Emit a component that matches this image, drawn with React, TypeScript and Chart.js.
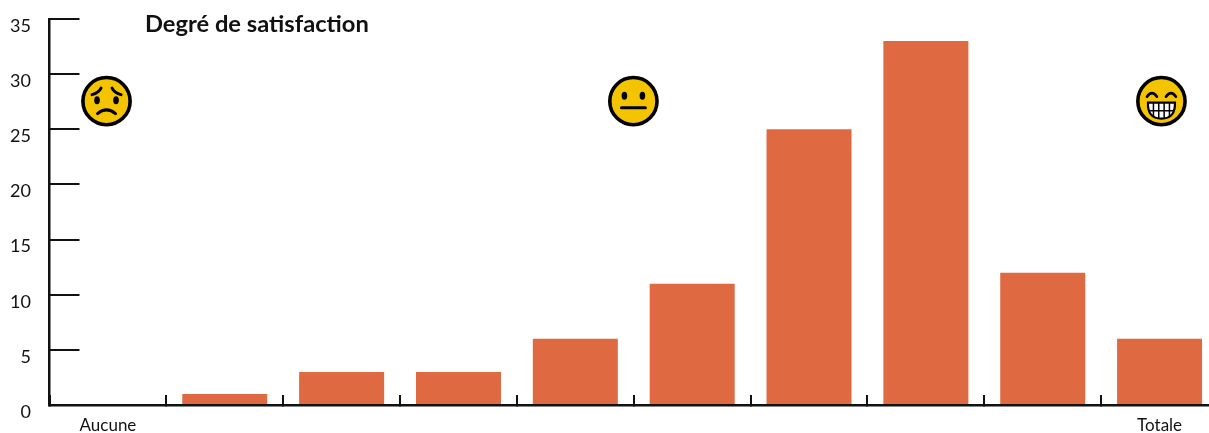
import React, { useEffect, useRef } from "react";
import { Chart, registerables } from "chart.js";

Chart.register(...registerables);

const categories = ["Aucune", "", "", "", "", "", "", "", "", "Totale"];
const responses = [0, 1, 3, 3, 6, 11, 25, 33, 12, 6];
const yTicks = [0, 5, 10, 15, 20, 25, 30, 35];
const chartTitle = "Degré de satisfaction";
const BAR_COLOR = "#DF6941";
const INK = "#111111";
const FACE = "#F5C400";

type Mood = "sad" | "neutral" | "grin";
// Fraction of the plot width and y value at which each mood face sits.
const moods: Mood[] = ["sad", "neutral", "grin"];
const moodFractions = [0.0488, 0.4997, 0.9516];
const moodValue = 27.55;

function drawFace(ctx: CanvasRenderingContext2D, cx: number, cy: number, mood: Mood) {
  ctx.save();
  ctx.translate(cx, cy);
  ctx.lineCap = "round";
  ctx.strokeStyle = "#000";
  ctx.fillStyle = FACE;
  ctx.lineWidth = 3.6;
  ctx.beginPath();
  ctx.arc(0, 0, 23.6, 0, Math.PI * 2);
  ctx.fill();
  ctx.stroke();
  ctx.fillStyle = "#000";
  ctx.lineWidth = 3;

  const eye = (x: number, y: number) => {
    ctx.beginPath();
    ctx.ellipse(x, y, 2.8, 4, 0, 0, Math.PI * 2);
    ctx.fill();
  };

  if (mood === "sad") {
    eye(-9.5, -1);
    eye(9.5, -1);
    ctx.beginPath();
    ctx.moveTo(-14.5, -6.5);
    ctx.quadraticCurveTo(-8, -8, -5.5, -13);
    ctx.moveTo(14.5, -6.5);
    ctx.quadraticCurveTo(8, -8, 5.5, -13);
    ctx.stroke();
    ctx.beginPath();
    ctx.moveTo(-9, 12.5);
    ctx.quadraticCurveTo(0, 5, 9, 12.5);
    ctx.stroke();
  } else if (mood === "neutral") {
    eye(-9, -5.5);
    eye(9, -5.5);
    ctx.beginPath();
    ctx.moveTo(-12, 6.5);
    ctx.lineTo(12, 6.5);
    ctx.stroke();
  } else {
    ctx.lineWidth = 2.6;
    ctx.beginPath();
    ctx.moveTo(-14.5, -4.5);
    ctx.quadraticCurveTo(-9.5, -11.5, -4.5, -4.5);
    ctx.moveTo(14.5, -4.5);
    ctx.quadraticCurveTo(9.5, -11.5, 4.5, -4.5);
    ctx.stroke();
    // Open mouth with a grid of teeth.
    const mouth = new Path2D();
    mouth.moveTo(-13.5, 1.5);
    mouth.lineTo(13.5, 1.5);
    mouth.quadraticCurveTo(14, 17.5, 0, 17.5);
    mouth.quadraticCurveTo(-14, 17.5, -13.5, 1.5);
    mouth.closePath();
    ctx.fillStyle = "#fff";
    ctx.fill(mouth);
    ctx.save();
    ctx.clip(mouth);
    ctx.lineWidth = 1.5;
    ctx.lineCap = "butt";
    ctx.beginPath();
    for (const x of [-8, -2.7, 2.7, 8]) {
      ctx.moveTo(x, 1);
      ctx.lineTo(x, 18);
    }
    ctx.moveTo(-14, 9.5);
    ctx.lineTo(14, 9.5);
    ctx.stroke();
    ctx.restore();
    ctx.lineWidth = 2.2;
    ctx.stroke(mouth);
  }
  ctx.restore();
}

// Draws the y tick labels slightly below their ticks, the title and the mood faces.
const annotations = {
  id: "annotations",
  afterDraw(chart: Chart) {
    const { ctx, scales, chartArea } = chart;
    const y = scales.y;
    ctx.save();
    ctx.fillStyle = INK;
    ctx.font = "18px Lato";
    ctx.textAlign = "right";
    ctx.textBaseline = "middle";
    for (const tick of yTicks) {
      ctx.fillText(String(tick), 31, y.getPixelForValue(tick) + 7);
    }
    ctx.font = "bold 23.7px Lato";
    ctx.textAlign = "left";
    ctx.fillText(chartTitle, 145, 24.5);
    ctx.restore();
    moods.forEach((mood, i) => {
      const cx = chartArea.left + moodFractions[i] * chartArea.width;
      drawFace(ctx, cx, y.getPixelForValue(moodValue), mood);
    });
  },
};

export default function App() {
  const ref = useRef<HTMLCanvasElement>(null);

  useEffect(() => {
    document.body.style.margin = "0";
    const chart = new Chart(ref.current!, {
      type: "bar",
      data: {
        labels: categories,
        datasets: [
          {
            data: responses,
            backgroundColor: BAR_COLOR,
            barPercentage: 0.7275,
            categoryPercentage: 1,
          },
        ],
      },
      options: {
        animation: false,
        responsive: false,
        layout: { padding: { top: 19, left: 0, right: 0, bottom: 0 } },
        plugins: { legend: { display: false }, tooltip: { enabled: false } },
        scales: {
          x: {
            offset: true,
            afterFit(scale: any) {
              scale.height = 28;
            },
            border: { color: INK, width: 2.5 },
            grid: {
              offset: true,
              drawOnChartArea: false,
              color: INK,
              lineWidth: 2,
              tickLength: -10,
            },
            ticks: {
              autoSkip: false,
              maxRotation: 0,
              minRotation: 0,
              color: INK,
              font: { family: "Lato", size: 17 },
              padding: 20,
            },
          },
          y: {
            min: 0,
            max: 35,
            afterFit(scale: any) {
              scale.width = 49.5;
            },
            afterBuildTicks(scale: any) {
              scale.ticks = yTicks.map((value) => ({ value }));
            },
            border: { color: INK, width: 2.5 },
            grid: {
              drawOnChartArea: false,
              color: INK,
              lineWidth: 2,
              tickLength: -30,
            },
            ticks: { display: false },
          },
        },
      },
      plugins: [annotations],
    });
    return () => chart.destroy();
  }, []);

  return (
    <div style={{ width: 1209, height: 433, overflow: "hidden" }}>
      <canvas ref={ref} width={1218} height={433} style={{ display: "block" }} />
    </div>
  );
}
